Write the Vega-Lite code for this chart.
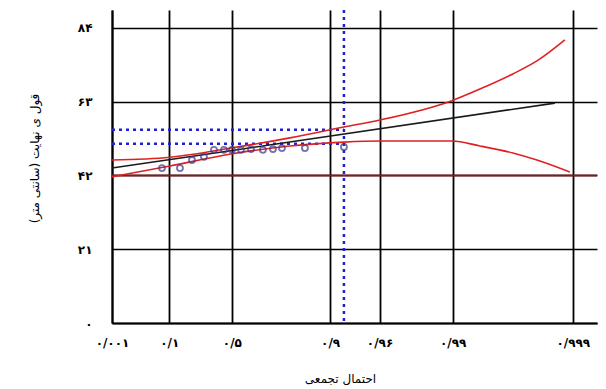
{
  "$schema": "https://vega.github.io/schema/vega-lite/v6.json",
  "width": 485,
  "height": 313,
  "autosize": "none",
  "padding": {"left": 112, "top": 10, "right": 9, "bottom": 66},
  "background": "white",
  "config": {"view": {"stroke": null}, "font": "DejaVu Sans"},
  "datasets": {
    "curves": [
      {"series": "fit", "r": -1.9327, "v": 44.1},
      {"series": "fit", "r": 6.562, "v": 62.6},
      {"series": "upper", "r": -1.9327, "v": 46.4},
      {"series": "upper", "r": -0.821, "v": 47.2},
      {"series": "upper", "r": 0.349, "v": 49.8},
      {"series": "upper", "r": 1.48, "v": 52.7},
      {"series": "upper", "r": 2.516, "v": 55.8},
      {"series": "upper", "r": 3.206, "v": 57.8},
      {"series": "upper", "r": 4.587, "v": 63.3},
      {"series": "upper", "r": 5.124, "v": 66.6},
      {"series": "upper", "r": 5.756, "v": 70.9},
      {"series": "upper", "r": 6.217, "v": 74.6},
      {"series": "upper", "r": 6.754, "v": 80.6},
      {"series": "lower", "r": -1.9327, "v": 41.6},
      {"series": "lower", "r": -0.821, "v": 44.7},
      {"series": "lower", "r": 0.349, "v": 48.1},
      {"series": "lower", "r": 1.48, "v": 50.4},
      {"series": "lower", "r": 2.516, "v": 51.5},
      {"series": "lower", "r": 3.206, "v": 51.8},
      {"series": "lower", "r": 4.587, "v": 51.8},
      {"series": "lower", "r": 5.124, "v": 50.4},
      {"series": "lower", "r": 5.756, "v": 48.4},
      {"series": "lower", "r": 6.217, "v": 46.4},
      {"series": "lower", "r": 6.849, "v": 43.0}
    ],
    "pts": [
      {"r": -0.974, "v": 44.1},
      {"r": -0.629, "v": 44.1},
      {"r": -0.399, "v": 46.4},
      {"r": -0.169, "v": 47.3},
      {"r": 0.023, "v": 49.3},
      {"r": 0.215, "v": 49.3},
      {"r": 0.368, "v": 49.3},
      {"r": 0.541, "v": 49.3},
      {"r": 0.733, "v": 49.5},
      {"r": 0.962, "v": 49.3},
      {"r": 1.155, "v": 49.5},
      {"r": 1.327, "v": 49.8},
      {"r": 1.768, "v": 49.8},
      {"r": 2.516, "v": 50.1}
    ],
    "hlines": [
      {"v": 55.0, "r0": -1.9327, "r1": 2.516},
      {"v": 51.0, "r0": -1.9327, "r1": 2.516}
    ],
    "vline": [{"r": 2.516}],
    "base": [{"v": 42}]
  },
  "layer": [
    {
      "data": {"name": "base"},
      "mark": {"type": "rule", "color": "#7a1f1f", "strokeWidth": 2},
      "encoding": {
        "y": {
          "field": "v", "type": "quantitative",
          "scale": {"domain": [0, 89.1], "nice": false, "zero": false},
          "axis": {
            "values": [0, 21, 42, 63, 84],
            "labelExpr": "datum.value == 0 ? '۰' : datum.value == 21 ? '۲۱' : datum.value == 42 ? '۴۲' : datum.value == 63 ? '۶۳' : '۸۴'",
            "grid": true, "gridColor": "black", "gridWidth": 1.6, "gridOpacity": 1,
            "domainColor": "black", "domainWidth": 2, "labelFlush": false,
            "ticks": false, "labelPadding": 20, "labelFontSize": 12, "labelColor": "black", "labelFontWeight": "bold",
            "title": "قول ی نهایت (سانتی متر)",
            "titleFontSize": 12, "titleFontWeight": "normal", "titleColor": "black",
            "titleX": -78, "titleY": 148, "titleBaseline": "middle", "titleAngle": -90
          }
        }
      }
    },
    {
      "data": {"name": "vline"},
      "mark": {"type": "rule", "color": "#2020d0", "strokeWidth": 2.5, "strokeDash": [3, 4]},
      "encoding": {
        "x": {
          "field": "r", "type": "quantitative",
          "scale": {"domain": [-1.9327, 7.37], "nice": false, "zero": false},
          "axis": {
            "values": [-1.9327, -0.834, 0.3665, 2.2504, 3.1985, 4.6002, 6.907],
            "labelExpr": "datum.value < -1 ? '۰/۰۰۱' : datum.value < 0 ? '۰/۱' : datum.value < 1 ? '۰/۵' : datum.value < 3 ? '۰/۹' : datum.value < 4 ? '۰/۹۶' : datum.value < 5 ? '۰/۹۹' : '۰/۹۹۹'",
            "grid": true, "gridColor": "black", "gridWidth": 1.8, "gridOpacity": 1,
            "domainColor": "black", "domainWidth": 2, "labelFlush": false,
            "ticks": false, "labelPadding": 14, "labelFontSize": 12, "labelColor": "black", "labelFontWeight": "bold",
            "title": "احتمال تجمعی",
            "titleFontSize": 12, "titleFontWeight": "normal", "titleColor": "black",
            "titleX": 228, "titleY": 55, "titleBaseline": "middle"
          }
        }
      }
    },
    {
      "data": {"name": "hlines"},
      "mark": {"type": "rule", "color": "#2020d0", "strokeWidth": 2.5, "strokeDash": [3, 4]},
      "encoding": {
        "x": {"field": "r0", "type": "quantitative"},
        "x2": {"field": "r1"},
        "y": {"field": "v", "type": "quantitative"}
      }
    },
    {
      "data": {"name": "curves"},
      "mark": {"type": "line", "strokeWidth": 1.6, "interpolate": "monotone"},
      "encoding": {
        "x": {"field": "r", "type": "quantitative"},
        "y": {"field": "v", "type": "quantitative"},
        "detail": {"field": "series"},
        "color": {
          "field": "series", "type": "nominal",
          "scale": {"domain": ["fit", "upper", "lower"], "range": ["#1a1a1a", "#e02020", "#e02020"]},
          "legend": null
        }
      }
    },
    {
      "data": {"name": "pts"},
      "mark": {"type": "point", "shape": "circle", "size": 36, "strokeWidth": 1.8, "filled": false, "color": "#3a3a8a"},
      "encoding": {
        "x": {"field": "r", "type": "quantitative"},
        "y": {"field": "v", "type": "quantitative"}
      }
    }
  ]
}
